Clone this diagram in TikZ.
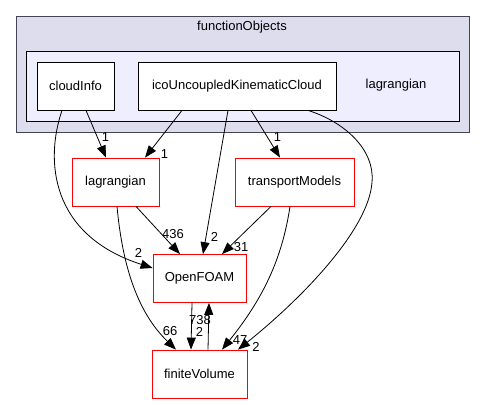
\documentclass[tikz,border=0pt]{standalone}
\usepackage{fontspec}
\setmainfont{Liberation Sans}
\usetikzlibrary{arrows.meta}
\begin{document}
\begin{tikzpicture}[x=1bp,y=-1bp,font=\fontsize{13bp}{15bp}\selectfont,
  dirbox/.style={draw=black,fill=white,line width=0.8bp,minimum height=48bp,inner sep=0pt},
  redbox/.style={draw=red,fill=white,line width=0.8bp,minimum height=48bp,inner sep=0pt},
  dep/.style={draw=black,line width=0.8bp,-{Triangle[length=12bp,width=9bp]}},
  lab/.style={inner sep=0pt,font=\fontsize{13bp}{15bp}\selectfont}]
\useasboundingbox (0,0) rectangle (485,404);
% clusters
\draw[fill={rgb,255:red,221;green,221;blue,238},draw={rgb,255:red,68;green,68;blue,80},line width=0.8bp] (16,16) rectangle (469,132);
\node[inner sep=0pt] (fo) at (242,27) {functionObjects};
\draw[fill={rgb,255:red,238;green,238;blue,255},draw=black,line width=0.8bp] (26,51) rectangle (459,121);
\node[inner sep=0pt] (lagcl) at (396,85) {lagrangian};
% nodes
\node[dirbox,minimum width=77bp] (ci) at (75.5,86) {cloudInfo};
\node[dirbox,minimum width=198bp] (ico) at (237,86) {icoUncoupledKinematicCloud};
\node[redbox,minimum width=87bp] (lag) at (115.5,182) {lagrangian};
\node[redbox,minimum width=119bp] (tm) at (294.5,182) {transportModels};
\node[redbox,minimum width=93bp] (of) at (199.5,278.5) {OpenFOAM};
\node[redbox,minimum width=95bp] (fv) at (199.5,374) {finiteVolume};
% edges
\draw[dep] (ci.south -| 86,0) -- (lag.north -| 106,0);
\node[lab] (l1) at (105.5,137) {1};
\draw[dep] (ci.south -| 62,0) .. controls (45,160) and (50,235) .. (of.west |- 0,268);
\node[lab] (l2) at (138.5,253) {2};
\draw[dep] (ico.south -| 182,0) -- (lag.north -| 145,0);
\node[lab] (l3) at (164.5,154) {1};
\draw[dep] (ico.south -| 228,0) -- (of.north -| 203,0);
\node[lab] (l4) at (214.5,237) {2};
\draw[dep] (ico.south -| 251,0) -- (tm.north -| 280,0);
\node[lab] (l5) at (277.5,137) {1};
\draw[dep] (ico.south -| 308,0) .. controls (345,122) and (375,150) .. (372,182) .. controls (369,230) and (300,300) .. (fv.north -| 238,0);
\node[lab] (l6) at (256,347) {2};
\draw[dep] (lag.south -| 136,0) -- (of.north -| 180,0);
\node[lab] (l7) at (173,234) {436};
\draw[dep] (lag.south -| 117,0) .. controls (122,260) and (135,310) .. (fv.north -| 176,0);
\node[lab] (l8) at (170,331) {66};
\draw[dep] (tm.south -| 271,0) -- (of.north -| 222,0);
\node[lab] (l9) at (241,247) {31};
\draw[dep] (tm.south -| 290,0) .. controls (282,260) and (262,300) .. (fv.north -| 222,0);
\node[lab] (l10) at (240,340) {47};
\draw[dep] (of.south -| 192,0) -- (fv.north -| 191,0);
\node[lab] (l11) at (199.5,332) {2};
\draw[dep] (fv.north -| 208,0) -- (of.south -| 209,0);
\node[lab] (l12) at (200,320) {738};
\end{tikzpicture}
\end{document}
